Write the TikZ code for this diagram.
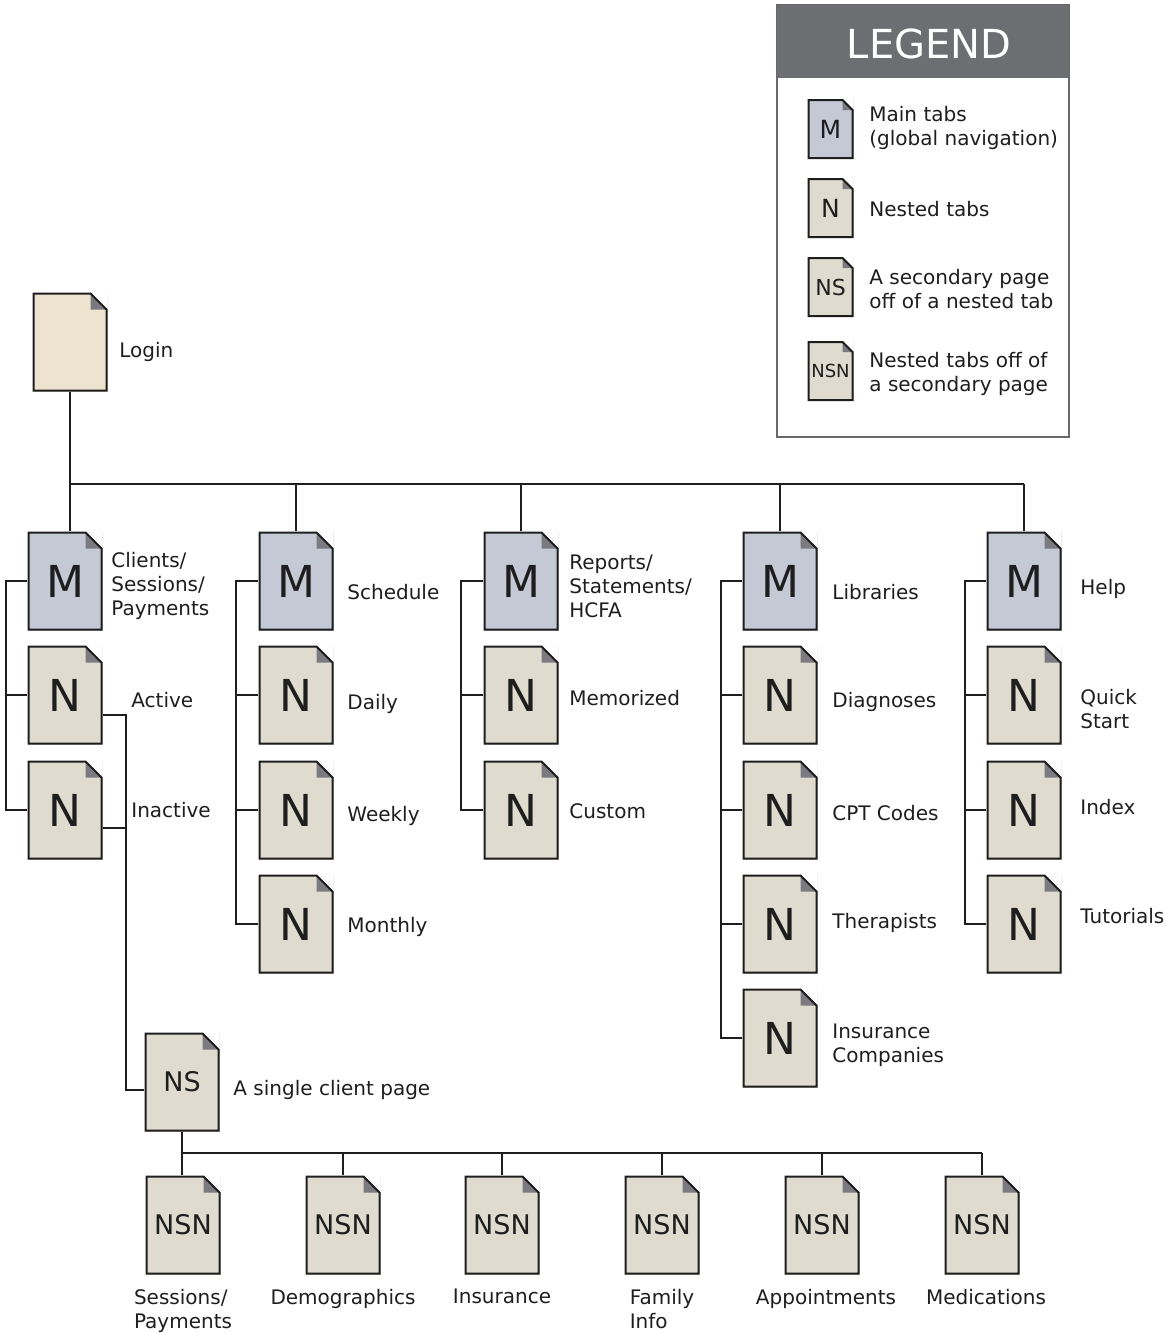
\documentclass[tikz,border=0pt]{standalone}
\usepackage{fontspec}
\setmainfont{DejaVu Sans}
\usetikzlibrary{calc}

\definecolor{mainfill}{RGB}{196,201,213}
\definecolor{nestfill}{RGB}{224,219,207}
\definecolor{loginfill}{RGB}{237,227,206}
\definecolor{foldgray}{RGB}{122,122,128}
\definecolor{inkline}{RGB}{30,30,30}
\definecolor{legendhead}{RGB}{109,110,113}
\definecolor{legendframe}{RGB}{105,105,105}

\begin{document}
\begin{tikzpicture} [x=0.5pt, y=-0.5pt,
  page/.style={rectangle, draw=none,
    minimum width=37.5pt, minimum height=49.5pt, inner sep=0pt,
    font=\fontsize{22}{22}\selectfont, text=inkline,
    path picture={
      \fill[white] (path picture bounding box.north east)
        -- ([xshift=-#1]path picture bounding box.north east)
        -- ([yshift=-#1]path picture bounding box.north east) -- cycle;
      \fill[foldgray] ([xshift=-#1]path picture bounding box.north east)
        -- ([shift={(-#1,-#1)}]path picture bounding box.north east)
        -- ([yshift=-#1]path picture bounding box.north east) -- cycle;
      \draw[inkline, line width=1pt, line join=miter]
        ([shift={(0.5pt,0.5pt)}]path picture bounding box.south west)
        -- ([shift={(0.5pt,-0.5pt)}]path picture bounding box.north west)
        -- ([shift={(-#1,-0.5pt)}]path picture bounding box.north east)
        -- ([shift={(-0.5pt,-#1)}]path picture bounding box.north east)
        -- ([shift={(-0.5pt,0.5pt)}]path picture bounding box.south east) -- cycle;}},
  mtab/.style={page=8.5pt, fill=mainfill},
  ntab/.style={page=8.5pt, fill=nestfill},
  subtab/.style={page=8.5pt, fill=nestfill, font=\fontsize{13.5}{13.5}\selectfont},
  keypage/.style={page=5.5pt, minimum width=23pt, minimum height=30pt},
  lbl/.style={anchor=west, inner sep=0pt, align=left, text=inkline,
    font=\fontsize{10}{12}\selectfont},
  link/.style={draw=inkline, line width=1pt}]

\useasboundingbox (0,0) rectangle (1165,1333);

% legend
\draw[legendframe, line width=0.8pt, fill=white] (777,5) rectangle (1069,437);
\fill[legendhead] (777,5) rectangle (1069,78);
\node[text=white, font=\fontsize{20}{20}\selectfont] (keyT) at (929,44) {LEGEND};
\node[keypage, fill=mainfill, font=\fontsize{12.5}{12.5}\selectfont] (keyM) at (830.5,129) {M};
\node[keypage, fill=nestfill, font=\fontsize{12.5}{12.5}\selectfont] (keyN) at (830.5,208) {N};
\node[keypage, fill=nestfill, font=\fontsize{11}{11}\selectfont] (keyNS) at (830.5,287) {NS};
\node[keypage, fill=nestfill, font=\fontsize{9}{9}\selectfont] (keyNSN) at (830.5,371) {NSN};
\node[lbl] (keyML) at (869,128) {Main tabs\\(global navigation)};
\node[lbl] (keyNL) at (869,209) {Nested tabs};
\node[lbl] (keyNSL) at (869,289) {A secondary page\\off of a nested tab};
\node[lbl] (keyNSNL) at (869,374) {Nested tabs off of\\a secondary page};

% login and main tabs
\node[page=8.5pt, fill=loginfill] (login) at (70,342) {};
\node[lbl] (loginL) at (119,352) {Login};

\node[mtab] (cli) at (65,581) {M};
\node[ntab] (cliA) at (65,695) {N};
\node[ntab] (cliI) at (65,810) {N};
\node[lbl] (cliL) at (111,586) {Clients/\\Sessions/\\Payments};
\node[lbl] (cliAL) at (131,700) {Active};
\node[lbl] (cliIL) at (131,810) {Inactive};

\node[mtab] (sch) at (296,581) {M};
\node[ntab] (schD) at (296,695) {N};
\node[ntab] (schW) at (296,810) {N};
\node[ntab] (schM) at (296,924) {N};
\node[lbl] (schL) at (347,592) {Schedule};
\node[lbl] (schDL) at (347,704) {Daily};
\node[lbl] (schWL) at (347,816) {Weekly};
\node[lbl] (schML) at (347,927) {Monthly};

\node[mtab] (rep) at (521,581) {M};
\node[ntab] (repM) at (521,695) {N};
\node[ntab] (repC) at (521,810) {N};
\node[lbl] (repL) at (569,586) {Reports/\\Statements/\\HCFA};
\node[lbl] (repML) at (569,698) {Memorized};
\node[lbl] (repCL) at (569,811) {Custom};

\node[mtab] (lib) at (780,581) {M};
\node[ntab] (libD) at (780,695) {N};
\node[ntab] (libC) at (780,810) {N};
\node[ntab] (libT) at (780,924) {N};
\node[ntab] (libI) at (780,1038) {N};
\node[lbl] (libL) at (832,592) {Libraries};
\node[lbl] (libDL) at (832,702) {Diagnoses};
\node[lbl] (libCL) at (832,813) {CPT Codes};
\node[lbl] (libTL) at (832,923) {Therapists};
\node[lbl] (libIL) at (832,1045) {Insurance\\Companies};

\node[mtab] (hlp) at (1024,581) {M};
\node[ntab] (hlpQ) at (1024,695) {N};
\node[ntab] (hlpI) at (1024,810) {N};
\node[ntab] (hlpT) at (1024,924) {N};
\node[lbl] (hlpL) at (1080,589) {Help};
\node[lbl] (hlpQL) at (1080,709) {Quick\\Start};
\node[lbl] (hlpIL) at (1080,807) {Index};
\node[lbl] (hlpTL) at (1080,916) {Tutorials};

% single client page and its tabs
\node[subtab] (ns) at (182,1082) {NS};
\node[lbl] (nsL) at (233,1090) {A single client page};

\node[subtab] (nsn1) at (183,1225) {NSN};
\node[subtab] (nsn2) at (343,1225) {NSN};
\node[subtab] (nsn3) at (502,1225) {NSN};
\node[subtab] (nsn4) at (662,1225) {NSN};
\node[subtab] (nsn5) at (822,1225) {NSN};
\node[subtab] (nsn6) at (982,1225) {NSN};
\node[lbl, anchor=north] (nsn1L) at ([yshift=-7pt]nsn1.south) {Sessions/\\Payments};
\node[lbl, anchor=north] (nsn2L) at ([yshift=-7pt]nsn2.south) {Demographics};
\node[lbl, anchor=north] (nsn3L) at ([yshift=-7pt]nsn3.south) {Insurance};
\node[lbl, anchor=north] (nsn4L) at ([yshift=-7pt]nsn4.south) {Family\\Info};
\node[lbl, anchor=north] (nsn5L) at ([xshift=2pt,yshift=-7pt]nsn5.south) {Appointments};
\node[lbl, anchor=north] (nsn6L) at ([xshift=2pt,yshift=-7pt]nsn6.south) {Medications};

% connectors
\coordinate (bus) at (0,484);
\draw[link] (login.south) -- (login.south |- cli.north);
\draw[link] (login.south |- bus) -- (bus -| hlp.north);
\foreach \n in {sch,rep,lib,hlp}
  \draw[link] (bus -| \n.north) -- (\n.north);

\draw[link] (cli.west) -- ++(-21,0) |- (cliI.west);
\draw[link] (cliA.west) -- ++(-21,0);
\draw[link] (sch.west) -- ++(-22,0) |- (schM.west);
\foreach \n in {schD,schW}
  \draw[link] (\n.west) -- ++(-22,0);
\draw[link] (rep.west) -- ++(-22,0) |- (repC.west);
\draw[link] (repM.west) -- ++(-22,0);
\draw[link] (lib.west) -- ++(-21,0) |- (libI.west);
\foreach \n in {libD,libC,libT}
  \draw[link] (\n.west) -- ++(-21,0);
\draw[link] (hlp.west) -- ++(-21,0) |- (hlpT.west);
\foreach \n in {hlpQ,hlpI}
  \draw[link] (\n.west) -- ++(-21,0);

\draw[link] ([yshift=-10pt]cliA.east) -- ++(23,0) |- ([yshift=-4pt]ns.west);
\draw[link] ([yshift=-9pt]cliI.east) -- ++(23,0);

\coordinate (bus2) at (0,1153);
\draw[link] (ns.south) -- (ns.south |- bus2) -- (bus2 -| nsn6.north);
\foreach \i in {2,...,6}
  \draw[link] (bus2 -| nsn\i.north) -- (nsn\i.north);
\draw[link] (ns.south |- bus2) -- (ns.south |- nsn1.north);

\end{tikzpicture}
\end{document}
